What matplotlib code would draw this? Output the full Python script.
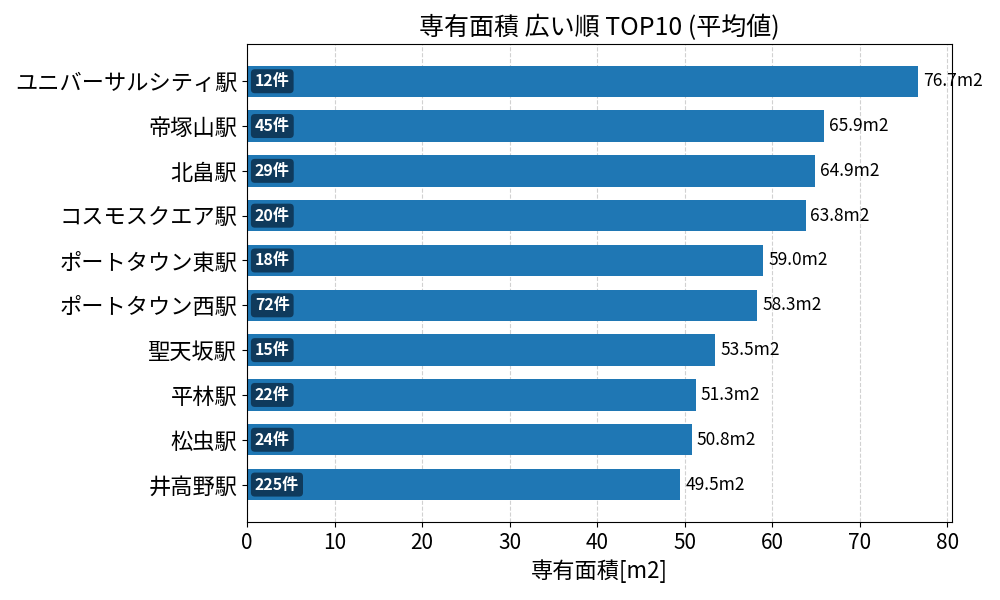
import matplotlib
matplotlib.use("Agg")
import matplotlib.pyplot as plt

plt.rcParams['font.family'] = ['Noto Sans CJK JP', 'DejaVu Sans']

stations = ["ユニバーサルシティ駅", "帝塚山駅", "北畠駅", "コスモスクエア駅", "ポートタウン東駅",
            "ポートタウン西駅", "聖天坂駅", "平林駅", "松虫駅", "井高野駅"]
areas = [76.7, 65.9, 64.9, 63.8, 59.0, 58.3, 53.5, 51.3, 50.8, 49.5]
counts = [12, 45, 29, 20, 18, 72, 15, 22, 24, 225]

fig, ax = plt.subplots(figsize=(10, 6), dpi=100)
fig.subplots_adjust(left=0.247, right=0.952, top=0.927, bottom=0.13)

ypos = list(range(len(stations)))
ax.barh(ypos, areas, height=0.7, color="#1f77b4", zorder=2)
ax.set_yticks(ypos)
ax.set_yticklabels(stations, fontsize=16)
ax.invert_yaxis()
ax.set_xlim(0, max(areas) * 1.05)
ax.tick_params(axis='x', labelsize=15)
ax.set_xlabel("専有面積[m2]", fontsize=16)
ax.set_title("専有面積 広い順 TOP10 (平均値)", fontsize=18)
ax.grid(axis='x', linestyle='--', color='#cccccc', alpha=0.9, zorder=0)
ax.set_axisbelow(True)

for y, a, c in zip(ypos, areas, counts):
    ax.text(a + 0.55, y, f"{a:.1f}m2", va='center', ha='left', fontsize=12.5)
    ax.text(0.9, y, f"{c}件", va='center', ha='left', fontsize=11.5, color='white',
            fontweight='bold',
            bbox=dict(boxstyle='round,pad=0.25', facecolor='#0f3a5c', edgecolor='none'))

fig.savefig("out.png", dpi=100)
